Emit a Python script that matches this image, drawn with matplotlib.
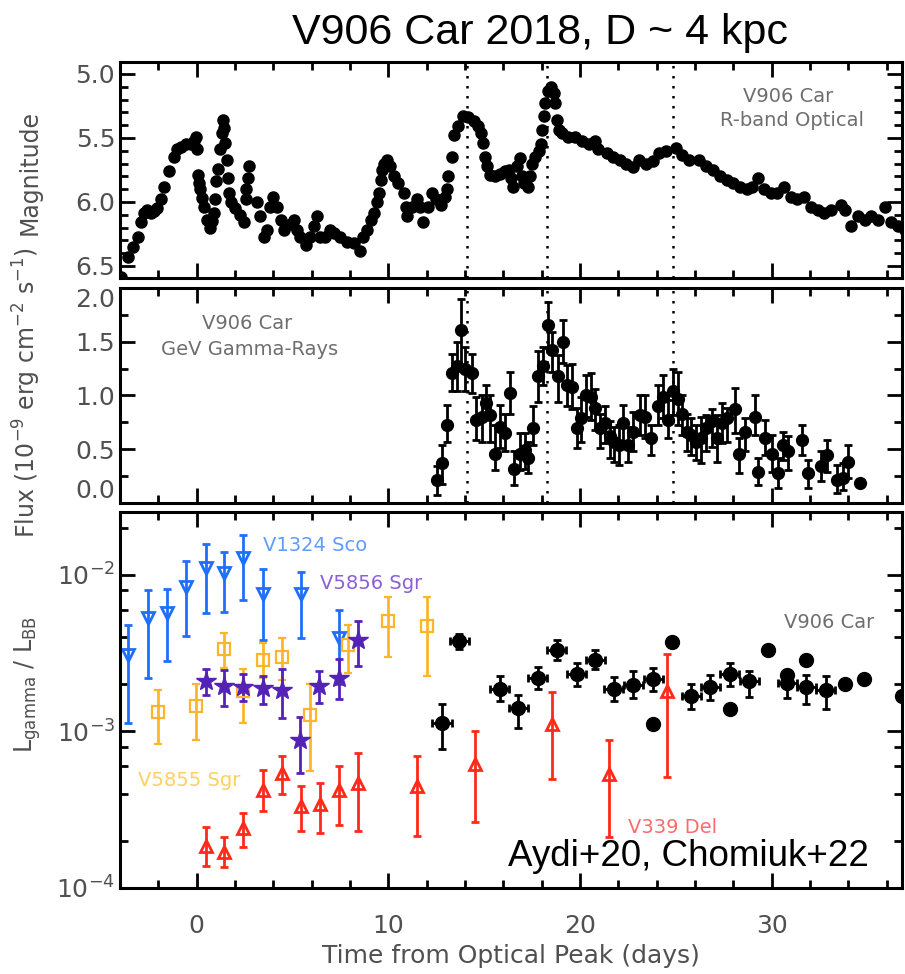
import matplotlib
matplotlib.use('Agg')
import matplotlib.pyplot as plt
import numpy as np
from matplotlib.ticker import MultipleLocator, FormatStrFormatter, LogLocator, NullFormatter

plt.rcParams['font.family'] = ['DejaVu Sans']
plt.rcParams['mathtext.default'] = 'regular'

# ---- optical R-band light curve of V906 Car (days, mag)
opt_t = [-3.96, -3.6, -3.33, -3.07, -2.92, -2.76, -2.6, -2.4, -2.2, -2.05, -1.88, -1.7, -1.44,
         -1.2, -1.0, -0.83, -0.57, -0.3, -0.15, -0.05, 0.03, 0.05, 0.12, 0.2, 0.3, 0.4, 0.55,
         0.7, 0.8, 0.9, 0.95, 1.0, 1.1, 1.2, 1.3, 1.35, 1.42, 1.5, 1.58, 1.65, 1.7, 1.8, 2.0,
         2.25, 2.45, 2.55, 2.6, 2.68, 2.75, 3.15, 3.3, 3.5, 3.65, 3.85, 4.0, 4.2, 4.4, 4.55,
         4.9, 5.1, 5.25, 5.4, 5.7, 5.9, 6.1, 6.3, 6.45, 6.7, 6.98, 7.15, 7.5, 7.85, 8.2, 8.5,
         8.7, 8.9, 9.1, 9.25, 9.4, 9.5, 9.6, 9.68, 9.75, 9.93, 10.1, 10.3, 10.5, 10.8, 10.9,
         11.0, 11.25, 11.5, 11.65, 11.8, 12.05, 12.3, 12.5, 12.75, 12.95, 13.05, 13.1, 13.3,
         13.45, 13.65, 13.9, 14.15, 14.45, 14.7, 14.85, 14.95, 15.05, 15.15, 15.3, 15.55,
         15.85, 16.1, 16.3, 16.4, 16.5, 16.7, 16.85, 16.95, 17.1, 17.3, 17.4, 17.5, 17.65,
         17.85, 17.95, 18.0, 18.1, 18.2, 18.35, 18.5, 18.65, 18.72, 18.8, 18.9, 19.05, 19.4,
         19.75, 20.1, 20.45, 20.8, 20.95, 21.4, 21.75, 22.1, 22.4, 22.75, 23.1, 23.45, 23.8,
         24.15, 24.5, 25.0, 25.35, 25.7, 26.2, 26.6, 26.95, 27.3, 27.65, 28.0, 28.35, 28.7,
         29.0, 29.3, 29.6, 29.95, 30.3, 30.65, 31.0, 31.35, 31.7, 32.05, 32.4, 32.75, 33.1,
         33.6, 33.85, 34.15, 34.5, 34.85, 35.2, 35.55, 35.9, 36.25, 36.6, 36.95]
opt_mag = [6.59, 6.43, 6.35, 6.27, 6.16, 6.09, 6.06, 6.09, 6.07, 6.05, 5.98, 5.88, 5.76,
           5.65, 5.59, 5.57, 5.55, 5.55, 5.52, 5.49, 5.59, 5.79, 5.85, 5.9, 5.97, 6.04, 6.14,
           6.2, 6.15, 6.09, 5.98, 5.84, 5.74, 5.59, 5.46, 5.36, 5.42, 5.54, 5.67, 5.81, 5.93,
           6.0, 6.05, 6.1, 6.16, 5.98, 5.9, 5.81, 5.72, 6.0, 6.11, 6.27, 6.22, 6.04, 5.96, 6.04,
           6.14, 6.22, 6.17, 6.14, 6.22, 6.27, 6.34, 6.27, 6.19, 6.11, 6.27, 6.27, 6.22, 6.24,
           6.27, 6.31, 6.32, 6.38, 6.27, 6.22, 6.14, 6.09, 6.0, 5.93, 5.83, 5.75, 5.7, 5.67,
           5.72, 5.8, 5.85, 5.93, 6.04, 6.11, 6.04, 5.98, 6.04, 6.16, 6.04, 5.93, 5.98, 6.02,
           5.96, 5.9, 5.8, 5.65, 5.48, 5.41, 5.33, 5.34, 5.37, 5.41, 5.46, 5.54, 5.65, 5.72,
           5.79, 5.8, 5.78, 5.76, 5.75, 5.81, 5.88, 5.72, 5.66, 5.8, 5.85, 5.88, 5.8, 5.7,
           5.65, 5.6, 5.55, 5.44, 5.33, 5.23, 5.13, 5.1, 5.15, 5.23, 5.36, 5.44, 5.46, 5.49,
           5.49, 5.52, 5.55, 5.52, 5.59, 5.62, 5.65, 5.67, 5.7, 5.73, 5.67, 5.7, 5.68, 5.62,
           5.6, 5.58, 5.63, 5.67, 5.67, 5.72, 5.75, 5.8, 5.83, 5.85, 5.88, 5.9, 5.88, 5.81,
           5.9, 5.93, 5.93, 5.88, 5.96, 5.98, 5.96, 6.04, 6.06, 6.09, 6.06, 6.02, 6.06, 6.19,
           6.11, 6.14, 6.11, 6.14, 6.04, 6.16, 6.19, 6.22]

# ---- Fermi-LAT GeV flux (1e-9 erg/cm2/s): time, value, upper end, lower end of error bar
gam_t = [12.52, 12.81, 13.07, 13.34, 13.56, 13.79, 14.0, 14.38, 14.6, 14.87, 15.08, 15.3,
         15.56, 15.82, 16.08, 16.34, 16.57, 16.87, 17.13, 17.3, 17.56, 17.82, 18.08, 18.31,
         18.55, 18.83, 19.12, 19.35, 19.6, 19.82, 20.08, 20.29, 20.57, 20.78, 21.04, 21.3,
         21.56, 21.79, 22.03, 22.25, 22.52, 22.78, 23.12, 23.39, 23.73, 24.08, 24.31, 24.6,
         24.86, 25.12, 25.35, 25.56, 25.82, 26.08, 26.34, 26.57, 26.87, 27.13, 27.39, 27.68,
         28.08, 28.31, 28.6, 29.12, 29.3, 29.65, 30.0, 30.34, 30.6, 30.86, 31.61, 31.9, 32.6,
         32.9, 33.39, 33.73, 33.99, 34.6]
gam_f = [0.21, 0.37, 0.73, 1.21, 1.27, 1.61, 1.25, 1.21, 0.77, 0.80, 0.93, 0.82, 0.46, 0.71,
         0.65, 1.02, 0.32, 0.46, 0.49, 0.42, 0.70, 1.18, 1.27, 1.66, 1.42, 1.18, 1.50, 1.10,
         1.08, 0.70, 0.79, 1.00, 0.99, 0.88, 0.70, 0.74, 0.62, 0.57, 0.54, 0.74, 0.54, 0.66,
         0.82, 0.80, 0.60, 0.90, 0.99, 0.77, 1.04, 0.97, 0.83, 0.66, 0.63, 0.57, 0.60, 0.70,
         0.76, 0.60, 0.74, 0.79, 0.87, 0.46, 0.66, 0.80, 0.29, 0.60, 0.46, 0.28, 0.54, 0.48,
         0.59, 0.28, 0.34, 0.45, 0.21, 0.23, 0.38, 0.19]
gam_hi = [0.34, 0.54, 0.91, 1.39, 1.50, 1.90, 1.45, 1.39, 0.99, 1.00, 1.10, 1.00, 0.73, 0.91,
          0.83, 1.22, 0.48, 0.65, 0.65, 0.57, 0.90, 1.41, 1.45, 1.87, 1.59, 1.38, 1.70, 1.28,
          1.29, 0.88, 0.99, 1.19, 1.21, 1.06, 0.83, 0.90, 0.76, 0.71, 0.73, 0.91, 0.71, 0.85,
          1.00, 1.00, 0.73, 1.10, 1.19, 0.96, 1.25, 1.22, 1.00, 0.83, 0.79, 0.73, 0.80, 0.82,
          0.87, 0.82, 0.93, 0.88, 1.07, 0.60, 0.79, 1.00, 0.42, 0.77, 0.63, 0.42, 0.66, 0.62,
          0.73, 0.40, 0.48, 0.59, 0.35, 0.37, 0.54, 0.19]
gam_lo = [0.07, 0.18, 0.57, 1.04, 1.04, 1.27, 1.04, 1.02, 0.59, 0.57, 0.79, 0.57, 0.31, 0.51,
          0.48, 0.83, 0.17, 0.31, 0.32, 0.28, 0.54, 0.94, 1.10, 1.44, 1.22, 0.94, 1.30, 0.90,
          0.87, 0.51, 0.57, 0.80, 0.77, 0.68, 0.51, 0.56, 0.42, 0.38, 0.35, 0.57, 0.38, 0.48,
          0.63, 0.60, 0.45, 0.73, 0.79, 0.60, 0.82, 0.73, 0.63, 0.48, 0.45, 0.40, 0.37, 0.48,
          0.52, 0.38, 0.56, 0.57, 0.65, 0.28, 0.48, 0.63, 0.17, 0.45, 0.29, 0.14, 0.40, 0.31,
          0.45, 0.14, 0.20, 0.29, 0.09, 0.12, 0.23, 0.19]

# ---- L_gamma / L_BB for the comparison novae: time, value, upper, lower
sco_t = [-3.57, -2.56, -1.53, -0.56, 0.47, 1.44, 2.43, 3.44, 5.43, 7.44]
sco_v = [3.1e-3, 5.3e-3, 5.7e-3, 8.4e-3, 1.10e-2, 1.03e-2, 1.28e-2, 7.6e-3, 7.5e-3, 3.95e-3]
sco_hi = [4.8e-3, 8.0e-3, 8.1e-3, 1.22e-2, 1.57e-2, 1.40e-2, 1.80e-2, 1.09e-2, 1.05e-2, 6.0e-3]
sco_lo = [1.13e-3, 2.2e-3, 2.8e-3, 4.05e-3, 5.7e-3, 5.8e-3, 6.9e-3, 3.85e-3, 3.95e-3, 2.0e-3]

s55_t = [-2.04, -0.04, 1.44, 2.43, 3.44, 4.43, 5.91, 7.91, 10.0, 12.0]
s55_v = [1.33e-3, 1.45e-3, 3.38e-3, 1.8e-3, 2.85e-3, 2.98e-3, 1.27e-3, 3.58e-3, 5.1e-3, 4.69e-3]
s55_hi = [1.85e-3, 2.02e-3, 4.26e-3, 2.5e-3, 3.67e-3, 3.95e-3, 2.0e-3, 4.8e-3, 7.2e-3, 7.2e-3]
s55_lo = [8.3e-4, 8.8e-4, 2.56e-3, 1.13e-3, 2.2e-3, 2.14e-3, 5.6e-4, 2.37e-3, 2.99e-3, 2.25e-3]

s56_t = [0.47, 1.44, 2.43, 3.44, 4.43, 5.39, 6.4, 7.44, 8.43]
s56_v = [2.09e-3, 1.95e-3, 1.92e-3, 1.9e-3, 1.85e-3, 8.8e-4, 1.95e-3, 2.2e-3, 3.85e-3]
s56_hi = [2.51e-3, 2.48e-3, 2.33e-3, 2.25e-3, 2.5e-3, 1.23e-3, 2.45e-3, 2.92e-3, 5.05e-3]
s56_lo = [1.70e-3, 1.45e-3, 1.56e-3, 1.5e-3, 1.22e-3, 5.46e-4, 1.52e-3, 1.6e-3, 2.63e-3]

del_t = [0.47, 1.44, 2.43, 3.44, 4.43, 5.43, 6.44, 7.44, 8.43, 11.48, 14.52, 18.52, 21.52, 24.52]
del_v = [1.86e-4, 1.71e-4, 2.41e-4, 4.2e-4, 5.46e-4, 3.34e-4, 3.43e-4, 4.2e-4, 4.71e-4,
         4.49e-4, 6.17e-4, 1.11e-3, 5.32e-4, 1.81e-3]
del_hi = [2.44e-4, 2.13e-4, 3.03e-4, 5.65e-4, 6.97e-4, 4.49e-4, 4.71e-4, 6.0e-4, 7.31e-4,
          6.97e-4, 1.0e-3, 1.78e-3, 8.8e-4, 3.14e-3]
del_lo = [1.39e-4, 1.36e-4, 1.82e-4, 3.11e-4, 4.0e-4, 2.3e-4, 2.23e-4, 2.53e-4, 2.3e-4,
          2.15e-4, 2.64e-4, 5.0e-4, 2.11e-4, 5.14e-4]

car_t = [12.8, 13.7, 15.82, 16.78, 17.79, 18.78, 19.82, 20.81, 21.77, 22.78, 23.82, 25.82,
         26.81, 27.82, 28.83, 30.81, 31.82, 32.83]
car_v = [1.13e-3, 3.76e-3, 1.87e-3, 1.42e-3, 2.2e-3, 3.33e-3, 2.34e-3, 2.87e-3, 1.87e-3,
         1.99e-3, 2.17e-3, 1.68e-3, 1.92e-3, 2.34e-3, 2.09e-3, 2.04e-3, 1.92e-3, 1.83e-3]
car_hi = [1.49e-3, 4.2e-3, 2.25e-3, 1.72e-3, 2.57e-3, 3.82e-3, 2.74e-3, 3.3e-3, 2.23e-3,
          2.42e-3, 2.55e-3, 2.0e-3, 2.3e-3, 2.75e-3, 2.45e-3, 2.42e-3, 2.3e-3, 2.25e-3]
car_lo = [7.67e-4, 3.35e-3, 1.56e-3, 1.05e-3, 1.86e-3, 2.85e-3, 1.96e-3, 2.5e-3, 1.56e-3,
          1.64e-3, 1.82e-3, 1.4e-3, 1.58e-3, 1.96e-3, 1.65e-3, 1.64e-3, 1.5e-3, 1.39e-3]
# V906 Car points drawn without error bars
car2_t = [23.82, 24.81, 27.82, 29.82, 30.81, 31.82, 33.82, 34.81, 36.8]
car2_v = [1.12e-3, 3.72e-3, 1.39e-3, 3.33e-3, 2.31e-3, 2.88e-3, 2.02e-3, 2.17e-3, 1.68e-3]

peak_days = [14.08, 18.29, 24.86]

gray = '#505050'


def yerr(v, hi, lo):
    v, hi, lo = np.array(v), np.array(hi), np.array(lo)
    return [v - lo, hi - v]


def style(ax):
    for s in ax.spines.values():
        s.set_linewidth(2.2)
    ax.tick_params(which='both', direction='in', top=True, right=True, width=2,
                   labelcolor=gray, labelsize=18)
    ax.tick_params(which='major', length=11)
    ax.tick_params(which='minor', length=6)
    ax.set_xlim(-4, 36.8)
    ax.xaxis.set_major_locator(MultipleLocator(10))
    ax.xaxis.set_minor_locator(MultipleLocator(2))


fig = plt.figure(figsize=(9.05, 9.74), dpi=100)
ax1 = fig.add_axes([0.1326, 0.7146, 0.864, 0.2218])
ax2 = fig.add_axes([0.1326, 0.4836, 0.864, 0.2207])
ax3 = fig.add_axes([0.1326, 0.0883, 0.864, 0.386])

# top: optical
style(ax1)
ax1.plot(opt_t, opt_mag, 'o', color='black', ms=8)
ax1.set_ylim(6.594, 4.906)
ax1.yaxis.set_major_locator(MultipleLocator(0.5))
ax1.yaxis.set_minor_locator(MultipleLocator(0.1))
ax1.yaxis.set_major_formatter(FormatStrFormatter('%.1f'))
ax1.tick_params(labelbottom=False)
ax1.set_ylabel('Magnitude', fontsize=17, color=gray)
ax1.yaxis.set_label_coords(-0.10, 0.49)
ax1.text(0.854, 0.838, 'V906 Car', transform=ax1.transAxes, ha='center', va='center',
         fontsize=14, color='#6e6e6e')
ax1.text(0.859, 0.731, 'R-band Optical', transform=ax1.transAxes, ha='center', va='center',
         fontsize=14, color='#6e6e6e')

# middle: gamma rays
style(ax2)
ax2.errorbar(gam_t, gam_f, yerr=yerr(gam_f, gam_hi, gam_lo), fmt='o', color='black',
             ms=8.5, elinewidth=2, capsize=3, capthick=2)
ax2.set_ylim(0, 2.0)
ax2.set_yticks([0, 0.5, 1.0, 1.5, 2.0])
ax2.yaxis.set_minor_locator(MultipleLocator(0.25))
ax2.yaxis.set_major_formatter(FormatStrFormatter('%.1f'))
ax2.tick_params(labelbottom=False)
labs = ax2.get_yticklabels()
labs[0].set_va('bottom')
labs[-1].set_va('top')
ax2.set_ylabel(r'Flux (10$^{-9}$ erg cm$^{-2}$ s$^{-1}$)', fontsize=17, color=gray)
ax2.yaxis.set_label_coords(-0.098, 0.516)
ax2.text(0.162, 0.837, 'V906 Car', transform=ax2.transAxes, ha='center', va='center',
         fontsize=14, color='#6e6e6e')
ax2.text(0.166, 0.712, 'GeV Gamma-Rays', transform=ax2.transAxes, ha='center', va='center',
         fontsize=14, color='#6e6e6e')

for ax in (ax1, ax2):
    for d in peak_days:
        ax.axvline(d, color='black', lw=1.8, ls=(0, (1, 3)))

# bottom: L_gamma / L_BB
style(ax3)
ax3.set_yscale('log')
ax3.set_ylim(1e-4, 0.0252)
ax3.yaxis.set_major_locator(LogLocator(base=10))
ax3.yaxis.set_minor_locator(LogLocator(base=10, subs=(2, 4, 6, 8)))
ax3.yaxis.set_minor_formatter(NullFormatter())
ax3.set_xlim(-4, 36.8)

blue, purple, orange, red = '#1f6fff', '#5522b8', '#ffb52a', '#ff2a1a'
ax3.errorbar(sco_t, sco_v, yerr=yerr(sco_v, sco_hi, sco_lo), fmt='v', color=blue,
             mfc='none', mew=2, ms=9, elinewidth=2, capsize=3, capthick=2)
ax3.errorbar(s55_t, s55_v, yerr=yerr(s55_v, s55_hi, s55_lo), fmt='s', color=orange,
             mfc='none', mew=1.6, ms=8.5, elinewidth=2, capsize=3, capthick=2)
ax3.errorbar(s56_t, s56_v, yerr=yerr(s56_v, s56_hi, s56_lo), fmt='*', color=purple,
             ms=15, elinewidth=2, capsize=3, capthick=2)
ax3.errorbar(del_t, del_v, yerr=yerr(del_v, del_hi, del_lo), fmt='^', color=red,
             mfc='none', mew=2, ms=9, elinewidth=2, capsize=3, capthick=2)
ax3.errorbar(car_t, car_v, yerr=yerr(car_v, car_hi, car_lo), xerr=0.5, fmt='o',
             color='black', ms=10, elinewidth=2, capsize=3, capthick=2)
ax3.plot(car2_t, car2_v, 'o', color='black', ms=10)

ax3.set_ylabel(r'L$_{\rm gamma}$ / L$_{\rm BB}$', fontsize=17, color=gray)
ax3.yaxis.set_label_coords(-0.098, 0.54)
ax3.set_xlabel('Time from Optical Peak (days)', fontsize=18, color=gray, labelpad=4)
ax3.tick_params(axis='x', which='major', pad=19)

ax3.text(0.183, 0.910, 'V1324 Sco', transform=ax3.transAxes, ha='left', va='center',
         fontsize=14, color='#5e9dff')
ax3.text(0.256, 0.811, 'V5856 Sgr', transform=ax3.transAxes, ha='left', va='center',
         fontsize=14, color='#8a60d4')
ax3.text(0.023, 0.287, 'V5855 Sgr', transform=ax3.transAxes, ha='left', va='center',
         fontsize=14, color='#ffd060')
ax3.text(0.650, 0.160, 'V339 Del', transform=ax3.transAxes, ha='left', va='center',
         fontsize=14, color='#ff6a6a')
ax3.text(0.965, 0.705, 'V906 Car', transform=ax3.transAxes, ha='right', va='center',
         fontsize=14, color='#6e6e6e')

fig.text(0.561, 1 - 866 / 974, 'Aydi+20, Chomiuk+22', ha='left', va='baseline',
         fontsize=26.5, family='Liberation Sans', color='black')
fig.text(0.597, 1 - 33 / 974, 'V906 Car 2018, D ~ 4 kpc', ha='center', va='center',
         fontsize=31, family='Liberation Sans', color='black')

fig.savefig('out.png', dpi=100)
